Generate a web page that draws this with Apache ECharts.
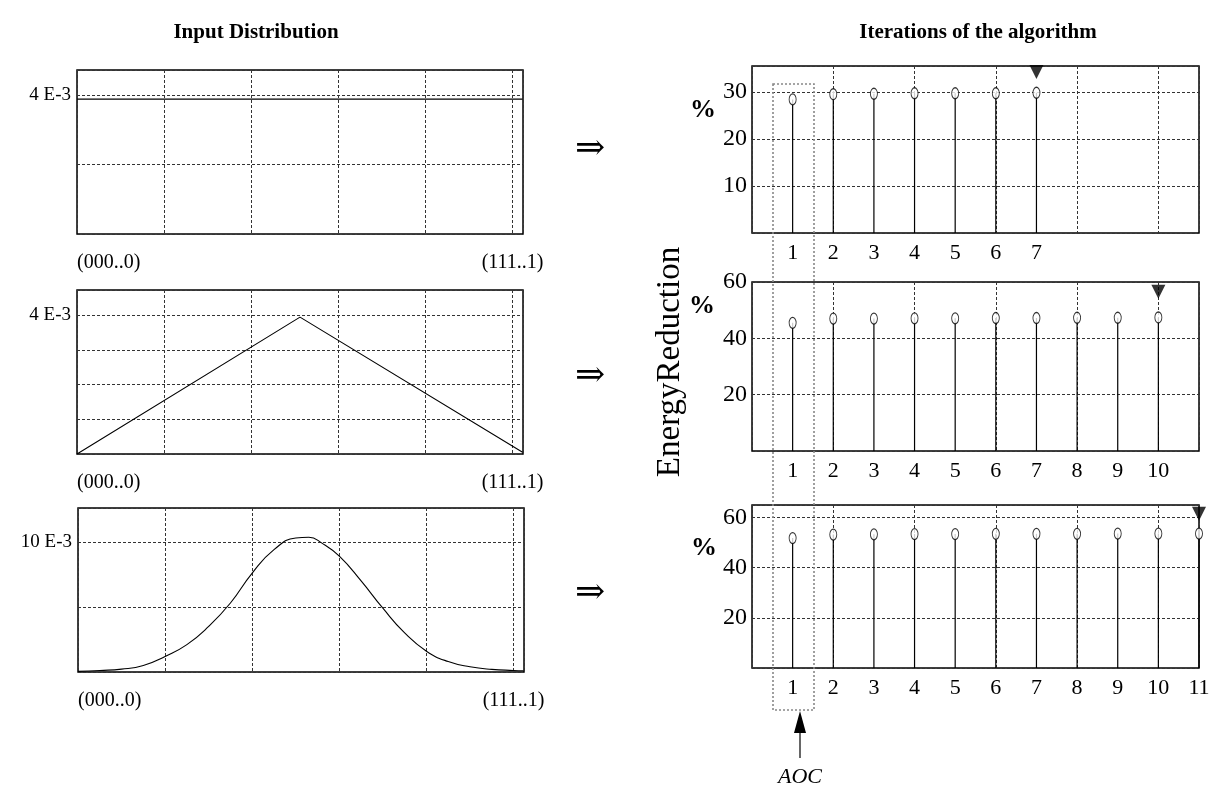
<!DOCTYPE html>
<html><head><meta charset="utf-8">
<script src="https://cdn.jsdelivr.net/npm/echarts@6/dist/echarts.min.js"></script>
<style>html,body{margin:0;padding:0;background:#fff}#c{width:1228px;height:792px}</style>
</head><body><div id="c"></div>
<script>
// ---------- data ----------
const uniformX = [0, 1023];
const uniformY = [3.88, 3.88];
const triangleX = [0, 512, 1023];
const triangleY = [0, 3.94, 0.05];
const gaussX = [0, 50, 100, 150, 200, 250, 300, 350, 400, 450, 500, 530, 560, 600, 650, 700, 750, 800, 850, 900, 950, 1000, 1023];
const gaussY = [0.05, 0.12, 0.22, 0.5, 1.2, 2.1, 3.5, 5.3, 7.6, 9.4, 10.3, 10.35, 9.9, 8.9, 7.0, 4.9, 3.0, 1.6, 0.8, 0.4, 0.2, 0.12, 0.1];
const leftXLabels = ['(000..0)', '(111..1)'];
const leftYLabels = ['4 E-3', '4 E-3', '10 E-3'];

const iter1 = [1, 2, 3, 4, 5, 6, 7];
const energy1 = [28.4, 29.5, 29.6, 29.7, 29.7, 29.7, 29.8];
const iter2 = [1, 2, 3, 4, 5, 6, 7, 8, 9, 10];
const energy2 = [45.5, 47.0, 47.0, 47.1, 47.1, 47.2, 47.2, 47.3, 47.3, 47.4];
const iter3 = [1, 2, 3, 4, 5, 6, 7, 8, 9, 10, 11];
const energy3 = [51.8, 53.2, 53.3, 53.4, 53.4, 53.5, 53.5, 53.5, 53.6, 53.6, 53.6];
const stopIter = [7, 10, 11];
const stopMarkY = [34.2, 56.5, 61.5];

// ---------- chart ----------
const serif = '"Liberation Serif", "Times New Roman", serif';
const gridLine = { show: true, lineStyle: { color: '#333', width: 1, type: [3, 2] } };
const frame = { show: true, borderColor: '#000', borderWidth: 1.5, backgroundColor: 'transparent' };

const grids = [
  Object.assign({ left: 77, top: 70, width: 446, height: 164 }, frame),
  Object.assign({ left: 77, top: 290, width: 446, height: 164 }, frame),
  Object.assign({ left: 78, top: 508, width: 446, height: 164 }, frame),
  Object.assign({ left: 752, top: 66, width: 447, height: 167 }, frame),
  Object.assign({ left: 752, top: 282, width: 447, height: 169 }, frame),
  Object.assign({ left: 752, top: 505, width: 447, height: 163 }, frame)
];

const xAxes = [];
for (let i = 0; i < 3; i++) {
  xAxes.push({
    type: 'value', gridIndex: i, min: 0, max: 1024, interval: 200,
    axisLine: { show: false }, axisTick: { show: false }, splitLine: gridLine,
    axisLabel: {
      show: true, margin: 19, color: '#000', fontFamily: serif, fontSize: 20,
      alignMinLabel: 'left',
      formatter: v => v === 0 ? leftXLabels[0] : (v === 1000 ? leftXLabels[1] : '')
    }
  });
}
const iterCounts = [iter1.length, iter2.length, iter3.length];
for (let i = 0; i < 3; i++) {
  xAxes.push({
    type: 'value', gridIndex: 3 + i, min: 0, max: 11, interval: 1,
    axisLine: { show: false }, axisTick: { show: false }, splitLine: { show: false },
    axisLabel: {
      show: true, margin: 9, color: '#000', fontFamily: serif, fontSize: 22,
      formatter: v => (v >= 1 && v <= iterCounts[i]) ? String(v) : ''
    }
  });
}
for (let i = 0; i < 3; i++) {
  xAxes.push({
    type: 'value', gridIndex: 3 + i, min: 0, max: 11, interval: 2,
    axisLine: { show: false }, axisTick: { show: false }, axisLabel: { show: false },
    splitLine: gridLine
  });
}

const leftYCfg = [
  { max: 4.72, interval: 2, label: 4 },
  { max: 4.72, interval: 1, label: 4 },
  { max: 12.6, interval: 5, label: 10 }
];
const rightYCfg = [
  { max: 35.5, interval: 10 },
  { max: 60, interval: 20 },
  { max: 65, interval: 20 }
];
const yAxes = [];
leftYCfg.forEach((c, i) => {
  yAxes.push({
    type: 'value', gridIndex: i, min: 0, max: c.max, interval: c.interval,
    axisLine: { show: false }, axisTick: { show: false }, splitLine: gridLine,
    axisLabel: {
      show: true, margin: 6, color: '#000', fontFamily: serif, fontSize: 19,
      formatter: v => v === c.label ? leftYLabels[i] : ''
    }
  });
});
rightYCfg.forEach((c, i) => {
  yAxes.push({
    type: 'value', gridIndex: 3 + i, min: 0, max: c.max, interval: c.interval,
    axisLine: { show: false }, axisTick: { show: false }, splitLine: gridLine,
    axisLabel: {
      show: true, margin: 5, color: '#000', fontFamily: serif, fontSize: 24,
      formatter: v => (v > 0 && v % c.interval === 0) ? String(v) : ''
    }
  });
});

const zip = (a, b) => a.map((v, k) => [v, b[k]]);
const series = [
  { type: 'line', xAxisIndex: 0, yAxisIndex: 0, data: zip(uniformX, uniformY), symbol: 'none', lineStyle: { color: '#000', width: 1.3 }, animation: false },
  { type: 'line', xAxisIndex: 1, yAxisIndex: 1, data: zip(triangleX, triangleY), symbol: 'none', lineStyle: { color: '#000', width: 1.1 }, animation: false },
  { type: 'line', xAxisIndex: 2, yAxisIndex: 2, data: zip(gaussX, gaussY), symbol: 'none', smooth: 0.5, lineStyle: { color: '#000', width: 1.1 }, animation: false }
];
const iters = [iter1, iter2, iter3];
const energies = [energy1, energy2, energy3];
for (let i = 0; i < 3; i++) {
  const d = zip(iters[i], energies[i]);
  series.push({
    type: 'custom', xAxisIndex: 3 + i, yAxisIndex: 3 + i, data: d, animation: false,
    renderItem: (params, api) => {
      const p0 = api.coord([api.value(0), 0]);
      const p1 = api.coord([api.value(0), api.value(1)]);
      return { type: 'line', shape: { x1: p0[0], y1: p0[1], x2: p1[0], y2: p1[1] }, style: { stroke: '#000', lineWidth: 1.2 } };
    }
  });
  series.push({
    type: 'scatter', xAxisIndex: 3 + i, yAxisIndex: 3 + i, data: d, animation: false,
    symbol: 'circle', symbolSize: [7, 11],
    itemStyle: { color: '#fff', borderColor: '#000', borderWidth: 1.1 }
  });
  series.push({
    type: 'scatter', xAxisIndex: 3 + i, yAxisIndex: 3 + i, animation: false,
    data: [[stopIter[i], stopMarkY[i]]],
    symbol: 'triangle', symbolRotate: 180, symbolSize: [14, 14],
    itemStyle: { color: '#000' }
  });
}

const graphics = [
  { type: 'text', style: { text: 'Input Distribution', x: 256, y: 33, align: 'center', verticalAlign: 'middle', font: 'bold 21px ' + serif, fill: '#000' } },
  { type: 'text', style: { text: 'Iterations of the algorithm', x: 978, y: 33, align: 'center', verticalAlign: 'middle', font: 'bold 21px ' + serif, fill: '#000' } },
  { type: 'text', x: 670, y: 362, rotation: Math.PI / 2, style: { text: 'EnergyReduction', x: 0, y: 0, align: 'center', verticalAlign: 'middle', font: '33px ' + serif, fill: '#000' } },
  { type: 'text', style: { text: '%', x: 703, y: 110, align: 'center', verticalAlign: 'middle', font: 'bold 26px ' + serif, fill: '#000' } },
  { type: 'text', style: { text: '%', x: 702, y: 306, align: 'center', verticalAlign: 'middle', font: 'bold 26px ' + serif, fill: '#000' } },
  { type: 'text', style: { text: '%', x: 704, y: 548, align: 'center', verticalAlign: 'middle', font: 'bold 26px ' + serif, fill: '#000' } },
  { type: 'text', style: { text: '⇒', x: 590, y: 150, align: 'center', verticalAlign: 'middle', font: '36px "DejaVu Serif", serif', fill: '#000' } },
  { type: 'text', style: { text: '⇒', x: 590, y: 377, align: 'center', verticalAlign: 'middle', font: '36px "DejaVu Serif", serif', fill: '#000' } },
  { type: 'text', style: { text: '⇒', x: 590, y: 594, align: 'center', verticalAlign: 'middle', font: '36px "DejaVu Serif", serif', fill: '#000' } },
  { type: 'rect', z: 100, shape: { x: 773, y: 84, width: 41, height: 626 }, style: { fill: 'none', stroke: '#888', lineWidth: 1.6, lineDash: [2, 2] } },
  { type: 'line', z: 100, shape: { x1: 800, y1: 758, x2: 800, y2: 728 }, style: { stroke: '#000', lineWidth: 1.2 } },
  { type: 'polygon', z: 100, shape: { points: [[800, 711], [794, 733], [806, 733]] }, style: { fill: '#000' } },
  { type: 'text', style: { text: 'AOC', x: 800, y: 777, align: 'center', verticalAlign: 'middle', font: 'italic 22px ' + serif, fill: '#000' } }
];

const chart = echarts.init(document.getElementById('c'), null, { renderer: 'canvas' });
chart.setOption({
  animation: false,
  backgroundColor: '#fff',
  grid: grids,
  xAxis: xAxes,
  yAxis: yAxes,
  series: series,
  graphic: graphics
});
</script>
</body></html>
